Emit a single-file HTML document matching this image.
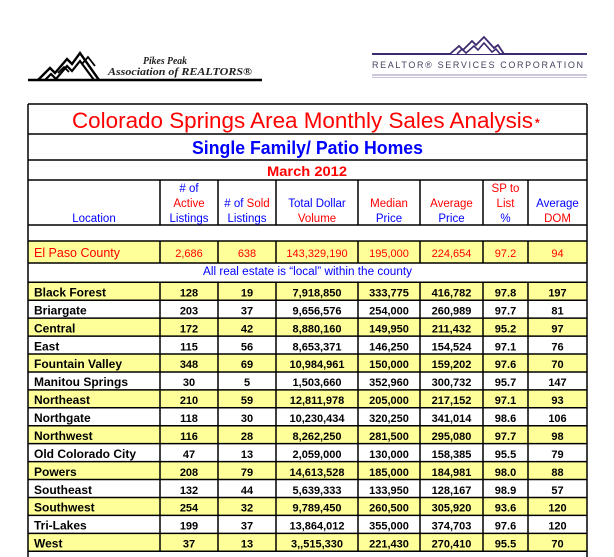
<!DOCTYPE html>
<html><head><meta charset="utf-8">
<style>
html,body{margin:0;padding:0;background:#fff;}
svg{display:block;}
text{font-family:"Liberation Sans",Arial,sans-serif;}
.hd{font-size:11.5px;}
.r{fill:#ff0000;}
.b{fill:#0000ff;}
.nm{font-size:12px;font-weight:bold;fill:#000;}
.n{font-size:11px;font-weight:bold;fill:#000;text-anchor:middle;}
.e{font-size:11px;fill:#ff0000;text-anchor:middle;}
</style></head>
<body>
<svg width="614" height="557" viewBox="0 0 614 557" xmlns="http://www.w3.org/2000/svg">
<!-- Left logo -->
<line x1="28" y1="80" x2="262" y2="80" stroke="#000" stroke-width="2.5"/>
<polyline points="38,80 50,68 55,73 67,59 72,64 80,53 99,80" fill="none" stroke="#000" stroke-width="2.4"/>
<polyline points="45,80 51,74 56,79 67,66 72,71 80,61 94,80" fill="none" stroke="#000" stroke-width="2.2"/>
<polyline points="58,73 64,67 69,72" fill="none" stroke="#000" stroke-width="1.8"/>
<polyline points="82,64 88,57 95,66" fill="none" stroke="#000" stroke-width="1.8"/>
<text x="143" y="64" style="font-family:'Liberation Serif',serif;font-weight:bold;font-style:italic;font-size:10px" fill="#222" textLength="44" lengthAdjust="spacingAndGlyphs">Pikes Peak</text>
<text x="108" y="75" style="font-family:'Liberation Serif',serif;font-weight:bold;font-style:italic;font-size:10px" fill="#222" textLength="144" lengthAdjust="spacingAndGlyphs">Association of REALTORS®</text>
<!-- Right logo -->
<line x1="372" y1="54" x2="587" y2="54" stroke="#3d2a6e" stroke-width="2"/>
<rect x="450" y="38" width="50" height="16" fill="#fff"/>
<polyline points="450,54 459,46 463,50 472,41 476,45 484,37 494,48 498,45 504,54" fill="none" stroke="#3d2a6e" stroke-width="1.8"/>
<polyline points="457,54 462,49 466,53 474,46 478,50 484,43 492,52 496,49 500,54" fill="none" stroke="#3d2a6e" stroke-width="1.6"/>
<text x="372" y="68" style="font-size:9px" fill="#4a4060" textLength="213" lengthAdjust="spacing" letter-spacing="2">REALTOR® SERVICES CORPORATION</text>
<line x1="372" y1="75" x2="587" y2="75" stroke="#9a8fb5" stroke-width="1"/>
<line x1="372" y1="77.5" x2="587" y2="77.5" stroke="#c9c0d9" stroke-width="1"/>

<!-- Fills -->
<rect x="28" y="241" width="559" height="22" fill="#ffff99"/>
<g fill="#ffff99">
<rect x="28" y="282.3" width="559" height="17.93"/>
<rect x="28" y="318.16" width="559" height="17.93"/>
<rect x="28" y="354.02" width="559" height="17.93"/>
<rect x="28" y="389.88" width="559" height="17.93"/>
<rect x="28" y="425.74" width="559" height="17.93"/>
<rect x="28" y="461.6" width="559" height="17.93"/>
<rect x="28" y="497.46" width="559" height="17.93"/>
<rect x="28" y="533.32" width="559" height="17.93"/>
</g>

<!-- Grid -->
<g stroke="#000" stroke-width="1.5">
<line x1="28" y1="104" x2="28" y2="557"/>
<line x1="587" y1="104" x2="587" y2="557"/>
<line x1="28" y1="104" x2="587" y2="104"/>
<line x1="28" y1="134" x2="587" y2="134"/>
<line x1="28" y1="160" x2="587" y2="160"/>
<line x1="28" y1="180" x2="587" y2="180"/>
<line x1="28" y1="225" x2="587" y2="225"/>
<line x1="28" y1="241" x2="587" y2="241"/>
<line x1="28" y1="263" x2="587" y2="263"/>
<line x1="28" y1="282.3" x2="587" y2="282.3"/>
<line x1="28" y1="300.23" x2="587" y2="300.23"/>
<line x1="28" y1="318.16" x2="587" y2="318.16"/>
<line x1="28" y1="336.09" x2="587" y2="336.09"/>
<line x1="28" y1="354.02" x2="587" y2="354.02"/>
<line x1="28" y1="371.95" x2="587" y2="371.95"/>
<line x1="28" y1="389.88" x2="587" y2="389.88"/>
<line x1="28" y1="407.81" x2="587" y2="407.81"/>
<line x1="28" y1="425.74" x2="587" y2="425.74"/>
<line x1="28" y1="443.67" x2="587" y2="443.67"/>
<line x1="28" y1="461.6" x2="587" y2="461.6"/>
<line x1="28" y1="479.53" x2="587" y2="479.53"/>
<line x1="28" y1="497.46" x2="587" y2="497.46"/>
<line x1="28" y1="515.39" x2="587" y2="515.39"/>
<line x1="28" y1="533.32" x2="587" y2="533.32"/>
<line x1="28" y1="551.25" x2="587" y2="551.25"/>
</g>
<g stroke="#000" stroke-width="1.5">
<path d="M160,180V225M218,180V225M276,180V225M358,180V225M420,180V225M483,180V225M528,180V225"/>
<path d="M160,241V263M218,241V263M276,241V263M358,241V263M420,241V263M483,241V263M528,241V263"/>
<path d="M160,282.3V551.25M218,282.3V551.25M276,282.3V551.25M358,282.3V551.25M420,282.3V551.25M483,282.3V551.25M528,282.3V551.25"/>
</g>

<!-- Titles -->
<text x="72" y="128" style="font-size:22px" fill="#ff0000" textLength="461" lengthAdjust="spacingAndGlyphs">Colorado Springs Area Monthly Sales Analysis</text>
<text x="535" y="127" style="font-size:12px;font-weight:bold" fill="#ff0000">*</text>
<text x="192" y="154" style="font-size:18px;font-weight:bold" fill="#0000ff" textLength="231" lengthAdjust="spacingAndGlyphs">Single Family/ Patio Homes</text>
<text x="267" y="176" style="font-size:14px;font-weight:bold" fill="#ff0000" textLength="80" lengthAdjust="spacingAndGlyphs">March 2012</text>

<!-- Header -->
<g class="hd" text-anchor="middle">
<text x="94" y="222" class="b">Location</text>
<text x="189" y="192" class="b"># of</text>
<text x="189" y="207" class="r">Active</text>
<text x="189" y="222" class="b">Listings</text>
<text x="247" y="207"><tspan class="b"># of </tspan><tspan class="r">Sold</tspan></text>
<text x="247" y="222" class="b">Listings</text>
<text x="317" y="207" class="b">Total Dollar</text>
<text x="317" y="222" class="r">Volume</text>
<text x="389" y="207" class="r">Median</text>
<text x="389" y="222" class="b">Price</text>
<text x="451.5" y="207" class="r">Average</text>
<text x="451.5" y="222" class="b">Price</text>
<text x="505.5" y="192" class="r">SP to</text>
<text x="505.5" y="207" class="r">List</text>
<text x="505.5" y="222" class="b">%</text>
<text x="557.5" y="207" class="b">Average</text>
<text x="557.5" y="222" class="r">DOM</text>
</g>

<!-- El Paso -->
<text x="34" y="257" style="font-size:12.5px" fill="#ff0000" textLength="86" lengthAdjust="spacingAndGlyphs">El Paso County</text>
<text class="e" x="189" y="257">2,686</text>
<text class="e" x="247" y="257">638</text>
<text class="e" x="317" y="257">143,329,190</text>
<text class="e" x="389" y="257">195,000</text>
<text class="e" x="451.5" y="257">224,654</text>
<text class="e" x="505.5" y="257">97.2</text>
<text class="e" x="557.5" y="257">94</text>

<text x="203" y="275" style="font-size:11.5px" fill="#0000ff" textLength="209" lengthAdjust="spacingAndGlyphs">All real estate is “local” within the county</text>

<!-- Data rows -->
<g>
<text class="nm" x="34" y="296.5">Black Forest</text>
<text class="n" x="189" y="296.5">128</text><text class="n" x="247" y="296.5">19</text><text class="n" x="317" y="296.5">7,918,850</text><text class="n" x="389" y="296.5">333,775</text><text class="n" x="451.5" y="296.5">416,782</text><text class="n" x="505.5" y="296.5">97.8</text><text class="n" x="557.5" y="296.5">197</text>

<text class="nm" x="34" y="314.4">Briargate</text>
<text class="n" x="189" y="314.4">203</text><text class="n" x="247" y="314.4">37</text><text class="n" x="317" y="314.4">9,656,576</text><text class="n" x="389" y="314.4">254,000</text><text class="n" x="451.5" y="314.4">260,989</text><text class="n" x="505.5" y="314.4">97.7</text><text class="n" x="557.5" y="314.4">81</text>

<text class="nm" x="34" y="332.4">Central</text>
<text class="n" x="189" y="332.4">172</text><text class="n" x="247" y="332.4">42</text><text class="n" x="317" y="332.4">8,880,160</text><text class="n" x="389" y="332.4">149,950</text><text class="n" x="451.5" y="332.4">211,432</text><text class="n" x="505.5" y="332.4">95.2</text><text class="n" x="557.5" y="332.4">97</text>

<text class="nm" x="34" y="350.3">East</text>
<text class="n" x="189" y="350.3">115</text><text class="n" x="247" y="350.3">56</text><text class="n" x="317" y="350.3">8,653,371</text><text class="n" x="389" y="350.3">146,250</text><text class="n" x="451.5" y="350.3">154,524</text><text class="n" x="505.5" y="350.3">97.1</text><text class="n" x="557.5" y="350.3">76</text>

<text class="nm" x="34" y="368.2">Fountain Valley</text>
<text class="n" x="189" y="368.2">348</text><text class="n" x="247" y="368.2">69</text><text class="n" x="317" y="368.2">10,984,961</text><text class="n" x="389" y="368.2">150,000</text><text class="n" x="451.5" y="368.2">159,202</text><text class="n" x="505.5" y="368.2">97.6</text><text class="n" x="557.5" y="368.2">70</text>

<text class="nm" x="34" y="386.2">Manitou Springs</text>
<text class="n" x="189" y="386.2">30</text><text class="n" x="247" y="386.2">5</text><text class="n" x="317" y="386.2">1,503,660</text><text class="n" x="389" y="386.2">352,960</text><text class="n" x="451.5" y="386.2">300,732</text><text class="n" x="505.5" y="386.2">95.7</text><text class="n" x="557.5" y="386.2">147</text>

<text class="nm" x="34" y="404.1">Northeast</text>
<text class="n" x="189" y="404.1">210</text><text class="n" x="247" y="404.1">59</text><text class="n" x="317" y="404.1">12,811,978</text><text class="n" x="389" y="404.1">205,000</text><text class="n" x="451.5" y="404.1">217,152</text><text class="n" x="505.5" y="404.1">97.1</text><text class="n" x="557.5" y="404.1">93</text>

<text class="nm" x="34" y="422.0">Northgate</text>
<text class="n" x="189" y="422.0">118</text><text class="n" x="247" y="422.0">30</text><text class="n" x="317" y="422.0">10,230,434</text><text class="n" x="389" y="422.0">320,250</text><text class="n" x="451.5" y="422.0">341,014</text><text class="n" x="505.5" y="422.0">98.6</text><text class="n" x="557.5" y="422.0">106</text>

<text class="nm" x="34" y="440.0">Northwest</text>
<text class="n" x="189" y="440.0">116</text><text class="n" x="247" y="440.0">28</text><text class="n" x="317" y="440.0">8,262,250</text><text class="n" x="389" y="440.0">281,500</text><text class="n" x="451.5" y="440.0">295,080</text><text class="n" x="505.5" y="440.0">97.7</text><text class="n" x="557.5" y="440.0">98</text>

<text class="nm" x="34" y="457.9">Old Colorado City</text>
<text class="n" x="189" y="457.9">47</text><text class="n" x="247" y="457.9">13</text><text class="n" x="317" y="457.9">2,059,000</text><text class="n" x="389" y="457.9">130,000</text><text class="n" x="451.5" y="457.9">158,385</text><text class="n" x="505.5" y="457.9">95.5</text><text class="n" x="557.5" y="457.9">79</text>

<text class="nm" x="34" y="475.8">Powers</text>
<text class="n" x="189" y="475.8">208</text><text class="n" x="247" y="475.8">79</text><text class="n" x="317" y="475.8">14,613,528</text><text class="n" x="389" y="475.8">185,000</text><text class="n" x="451.5" y="475.8">184,981</text><text class="n" x="505.5" y="475.8">98.0</text><text class="n" x="557.5" y="475.8">88</text>

<text class="nm" x="34" y="493.8">Southeast</text>
<text class="n" x="189" y="493.8">132</text><text class="n" x="247" y="493.8">44</text><text class="n" x="317" y="493.8">5,639,333</text><text class="n" x="389" y="493.8">133,950</text><text class="n" x="451.5" y="493.8">128,167</text><text class="n" x="505.5" y="493.8">98.9</text><text class="n" x="557.5" y="493.8">57</text>

<text class="nm" x="34" y="511.7">Southwest</text>
<text class="n" x="189" y="511.7">254</text><text class="n" x="247" y="511.7">32</text><text class="n" x="317" y="511.7">9,789,450</text><text class="n" x="389" y="511.7">260,500</text><text class="n" x="451.5" y="511.7">305,920</text><text class="n" x="505.5" y="511.7">93.6</text><text class="n" x="557.5" y="511.7">120</text>

<text class="nm" x="34" y="529.6">Tri-Lakes</text>
<text class="n" x="189" y="529.6">199</text><text class="n" x="247" y="529.6">37</text><text class="n" x="317" y="529.6">13,864,012</text><text class="n" x="389" y="529.6">355,000</text><text class="n" x="451.5" y="529.6">374,703</text><text class="n" x="505.5" y="529.6">97.6</text><text class="n" x="557.5" y="529.6">120</text>

<text class="nm" x="34" y="547.6">West</text>
<text class="n" x="189" y="547.6">37</text><text class="n" x="247" y="547.6">13</text><text class="n" x="317" y="547.6">3,,515,330</text><text class="n" x="389" y="547.6">221,430</text><text class="n" x="451.5" y="547.6">270,410</text><text class="n" x="505.5" y="547.6">95.5</text><text class="n" x="557.5" y="547.6">70</text>
</g>
</svg>
</body></html>
